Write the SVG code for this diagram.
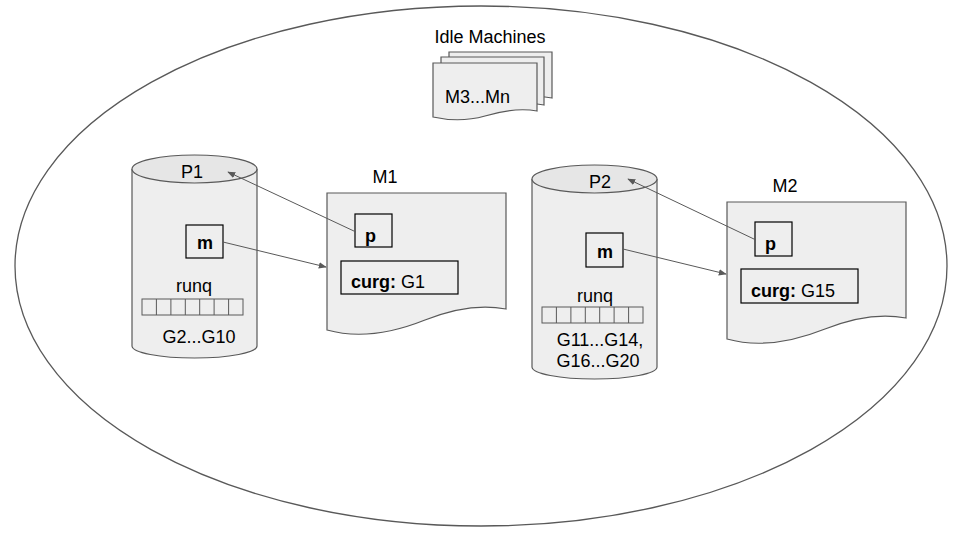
<svg xmlns="http://www.w3.org/2000/svg" width="960" height="540" viewBox="0 0 960 540">
<style>
  .shape { fill: #eeeeee; stroke: #595959; stroke-width: 1.2; }
  .top { fill: #e6e6e6; stroke: #595959; stroke-width: 1.2; }
  .box { fill: none; stroke: #000000; stroke-width: 1.2; }
  .cell { fill: none; stroke: #595959; stroke-width: 1; }
  .conn { fill: none; stroke: #595959; stroke-width: 1; }
  text { font-family: "Liberation Sans", Arial, sans-serif; font-size: 18px; fill: #000; }
  .b { font-weight: bold; }
  .mid { text-anchor: middle; }
</style>
<defs>
  <marker id="arr" viewBox="0 0 10 10" refX="9" refY="5" markerWidth="8" markerHeight="8" markerUnits="userSpaceOnUse" orient="auto">
    <path d="M0,1 L10,5 L0,9 Z" fill="#595959"/>
  </marker>
</defs>
<rect x="0" y="0" width="960" height="540" fill="#ffffff"/>
<ellipse id="boundary" cx="481" cy="266" rx="466" ry="260" fill="none" stroke="#595959" stroke-width="1.3"/>

<g id="idle">
  <text x="490" y="43" class="mid">Idle Machines</text>
  <path class="shape" d="M449,52 H552 V98 Q530,94 500,103 Q475,110 449,104 Z"/>
  <path class="shape" d="M441,57 H544 V105 Q522,101 492,110 Q467,117 441,111 Z"/>
  <path class="shape" d="M433,63 H537 V111 Q515,107 485,116 Q460,123 433,117 Z"/>
  <text x="445" y="103">M3...Mn</text>
</g>

<g id="P1">
  <path class="shape" d="M132,169 V346 A62.5,12 0 0 0 257,346 V169"/>
  <ellipse class="top" cx="194.5" cy="169" rx="62.5" ry="14"/>
  <text x="192" y="178" class="mid">P1</text>
  <g id="P1-m">
    <rect class="box" x="186" y="225" width="37" height="33"/>
    <text x="205" y="249" class="mid b">m</text>
  </g>
  <text x="194" y="292" class="mid">runq</text>
  <g id="P1-runq">
    <rect class="cell" x="142" y="299" width="101" height="16"/>
    <line class="cell" x1="156.4" y1="299" x2="156.4" y2="315"/>
    <line class="cell" x1="170.9" y1="299" x2="170.9" y2="315"/>
    <line class="cell" x1="185.3" y1="299" x2="185.3" y2="315"/>
    <line class="cell" x1="199.7" y1="299" x2="199.7" y2="315"/>
    <line class="cell" x1="214.1" y1="299" x2="214.1" y2="315"/>
    <line class="cell" x1="228.6" y1="299" x2="228.6" y2="315"/>
  </g>
  <text x="199" y="343" class="mid">G2...G10</text>
</g>

<g id="M1">
  <text x="385" y="183" class="mid">M1</text>
  <path class="shape" d="M327,193 H506 V309 Q470,302 425,320 Q370,342 327,330 Z"/>
  <g id="M1-p">
    <rect class="box" x="355" y="214" width="37" height="33"/>
    <text x="365" y="242" class="b">p</text>
  </g>
  <g id="M1-curg">
    <rect class="box" x="341" y="261" width="117" height="33"/>
    <text x="351" y="288"><tspan class="b">curg:</tspan> G1</text>
  </g>
</g>

<g id="P2">
  <path class="shape" d="M532,179 V367 A62.5,12 0 0 0 657,367 V179"/>
  <ellipse class="top" cx="594.5" cy="179" rx="62.5" ry="14"/>
  <text x="600" y="188" class="mid">P2</text>
  <g id="P2-m">
    <rect class="box" x="586" y="233" width="37" height="34"/>
    <text x="605" y="258" class="mid b">m</text>
  </g>
  <text x="595" y="302" class="mid">runq</text>
  <g id="P2-runq">
    <rect class="cell" x="542" y="307" width="101" height="16"/>
    <line class="cell" x1="556.4" y1="307" x2="556.4" y2="323"/>
    <line class="cell" x1="570.9" y1="307" x2="570.9" y2="323"/>
    <line class="cell" x1="585.3" y1="307" x2="585.3" y2="323"/>
    <line class="cell" x1="599.7" y1="307" x2="599.7" y2="323"/>
    <line class="cell" x1="614.1" y1="307" x2="614.1" y2="323"/>
    <line class="cell" x1="628.6" y1="307" x2="628.6" y2="323"/>
  </g>
  <text x="600" y="346" class="mid">G11...G14,</text>
  <text x="598" y="367" class="mid">G16...G20</text>
</g>

<g id="M2">
  <text x="785" y="192" class="mid">M2</text>
  <path class="shape" d="M727,202 H906 V318 Q870,311 825,329 Q770,351 727,339 Z"/>
  <g id="M2-p">
    <rect class="box" x="755" y="222" width="37" height="34"/>
    <text x="765" y="250" class="b">p</text>
  </g>
  <g id="M2-curg">
    <rect class="box" x="741" y="269" width="117" height="34"/>
    <text x="751" y="297"><tspan class="b">curg:</tspan> G15</text>
  </g>
</g>

<g id="connectors">
  <line class="conn" x1="356" y1="232" x2="228" y2="172" marker-end="url(#arr)"/>
  <line class="conn" x1="223" y1="242" x2="326" y2="267" marker-end="url(#arr)"/>
  <line class="conn" x1="756" y1="240" x2="628" y2="179" marker-end="url(#arr)"/>
  <line class="conn" x1="623" y1="249" x2="726" y2="274" marker-end="url(#arr)"/>
</g>
</svg>
